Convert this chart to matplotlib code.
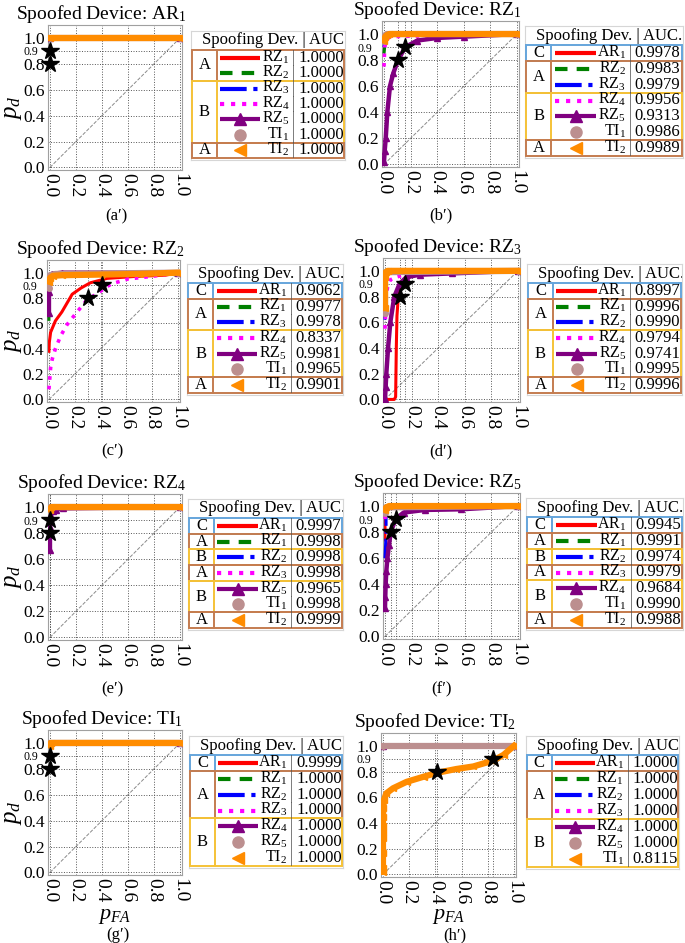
import matplotlib
matplotlib.use('Agg')
import matplotlib.pyplot as plt
from matplotlib.patches import Rectangle

plt.rcParams['font.family'] = ['Liberation Serif', 'DejaVu Serif']
plt.rcParams['mathtext.fontset'] = 'custom'
plt.rcParams['mathtext.rm'] = 'Liberation Serif'
plt.rcParams['mathtext.it'] = 'Liberation Serif:italic'
plt.rcParams['mathtext.bf'] = 'Liberation Serif:bold'

# ---------------- data ----------------
spoofed = ['AR_1', 'RZ_1', 'RZ_2', 'RZ_3', 'RZ_4', 'RZ_5', 'TI_1', 'TI_2']
panel_tags = ["(a′)", "(b′)", "(c′)", "(d′)", "(e′)", "(f′)", "(g′)", "(h′)"]
star_pd = [0.8, 0.9]

# (a') spoofed AR1
dev_a = ['RZ_1', 'RZ_2', 'RZ_3', 'RZ_4', 'RZ_5', 'TI_1', 'TI_2']
auc_a = ['1.0000', '1.0000', '1.0000', '1.0000', '1.0000', '1.0000', '1.0000']
grp_a = [('A', 0, 2), ('B', 2, 6), ('A', 6, 7)]
star_a = [0.0, 0.0]
curves_a = [([0, 1], [1, 1]), ([0, 1], [1, 1]), ([0, 1], [1, 1]), ([0, 1], [1, 1]),
            ([0, 1], [1, 1]), ([0, 1], [1, 1]), ([0, 1], [1, 1])]

# (b') spoofed RZ1
dev_b = ['AR_1', 'RZ_2', 'RZ_3', 'RZ_4', 'RZ_5', 'TI_1', 'TI_2']
auc_b = ['0.9978', '0.9983', '0.9979', '0.9956', '0.9313', '0.9986', '0.9989']
grp_b = [('C', 0, 1), ('A', 1, 3), ('B', 3, 6), ('A', 6, 7)]
star_b = [0.106, 0.16]
curves_b = [
    ([0, 0.01, 0.03, 1], [0.93, 0.97, 0.99, 1]),
    ([0, 0.01, 0.03, 1], [0.85, 0.95, 0.99, 1]),
    ([0, 0.01, 0.03, 1], [0.90, 0.96, 0.99, 1]),
    ([0, 0.005, 0.02, 0.05, 1], [0.75, 0.90, 0.96, 0.98, 1]),
    ([0, 0.005, 0.013, 0.025, 0.045, 0.07, 0.106, 0.16, 0.25, 0.4, 0.6, 1],
     [0.02, 0.10, 0.20, 0.40, 0.60, 0.70, 0.80, 0.90, 0.95, 0.97, 0.98, 1]),
    ([0, 0.01, 0.02, 1], [0.95, 0.99, 1, 1]),
    ([0, 0.01, 0.02, 0.04, 1], [0.95, 0.98, 0.99, 1, 1]),
]

# (c') spoofed RZ2
dev_c = ['AR_1', 'RZ_1', 'RZ_3', 'RZ_4', 'RZ_5', 'TI_1', 'TI_2']
auc_c = ['0.9062', '0.9977', '0.9978', '0.8337', '0.9981', '0.9965', '0.9901']
grp_c = [('C', 0, 1), ('A', 1, 3), ('B', 3, 6), ('A', 6, 7)]
star_c = [0.30, 0.41]
curves_c = [
    ([0, 0.003, 0.013, 0.05, 0.1, 0.18, 0.25, 0.32, 0.45, 0.66, 0.9, 1],
     [0.38, 0.45, 0.53, 0.62, 0.69, 0.83, 0.88, 0.92, 0.955, 0.97, 0.98, 1]),
    ([0, 0, 0.01, 0.03, 1], [0.62, 0.90, 0.97, 0.99, 1]),
    ([0, 0.01, 0.03, 1], [0.88, 0.97, 0.99, 1]),
    ([0, 0.013, 0.026, 0.05, 0.09, 0.14, 0.21, 0.29, 0.38, 0.48, 0.61, 0.79, 1],
     [0.08, 0.25, 0.32, 0.40, 0.50, 0.59, 0.68, 0.78, 0.84, 0.91, 0.95, 0.97, 1]),
    ([0, 0, 0.003, 0.02, 0.1, 1], [0.68, 0.85, 0.95, 0.99, 1, 1]),
    ([0, 0, 0.01, 0.05, 1], [0.88, 0.95, 0.98, 0.99, 1]),
    ([0, 0.01, 0.03, 0.1, 0.4, 0.7, 1], [0.93, 0.96, 0.975, 0.98, 0.985, 0.99, 1]),
]

# (d') spoofed RZ3
dev_d = ['AR_1', 'RZ_1', 'RZ_2', 'RZ_4', 'RZ_5', 'TI_1', 'TI_2']
auc_d = ['0.8997', '0.9996', '0.9990', '0.9794', '0.9741', '0.9995', '0.9996']
grp_d = [('C', 0, 1), ('A', 1, 3), ('B', 3, 6), ('A', 6, 7)]
star_d = [0.11, 0.15]
curves_d = [
    ([0, 0.07, 0.08, 0.085, 0.09, 0.1, 0.12, 0.15, 0.2, 0.3, 1],
     [0, 0, 0.02, 0.40, 0.65, 0.80, 0.87, 0.93, 0.96, 0.975, 1]),
    ([0, 0, 0.01, 1], [0.85, 0.95, 0.99, 1]),
    ([0, 0, 0.01, 0.03, 1], [0.62, 0.90, 0.97, 0.99, 1]),
    ([0, 0.01, 0.02, 0.04, 0.08, 0.15, 1], [0.55, 0.80, 0.88, 0.93, 0.95, 0.97, 1]),
    ([0, 0.005, 0.01, 0.023, 0.04, 0.07, 0.11, 0.16, 0.26, 0.5, 1],
     [0.0, 0.10, 0.20, 0.40, 0.60, 0.80, 0.90, 0.95, 0.97, 0.98, 1]),
    ([0, 0, 0.01, 1], [0.67, 0.95, 0.99, 1]),
    ([0, 0, 0.005, 0.02, 1], [0.71, 0.95, 0.99, 1, 1]),
]

# (e') spoofed RZ4
dev_e = ['AR_1', 'RZ_1', 'RZ_2', 'RZ_3', 'RZ_5', 'TI_1', 'TI_2']
auc_e = ['0.9997', '0.9998', '0.9998', '0.9998', '0.9965', '0.9998', '0.9999']
grp_e = [('C', 0, 1), ('A', 1, 2), ('B', 2, 3), ('A', 3, 4), ('B', 4, 6), ('A', 6, 7)]
star_e = [0.004, 0.004]
curves_e = [
    ([0, 0.005, 0.02, 1], [0.97, 0.99, 1, 1]),
    ([0, 0.005, 1], [0.98, 1, 1]),
    ([0, 0.005, 1], [0.98, 1, 1]),
    ([0, 0.005, 1], [0.98, 1, 1]),
    ([0, 0, 0.005, 0.02, 0.05, 0.1, 1], [0.67, 0.85, 0.93, 0.97, 0.98, 0.99, 1]),
    ([0, 0.005, 1], [0.98, 1, 1]),
    ([0, 0.01, 1], [0.98, 1, 1]),
]

# (f') spoofed RZ5
dev_f = ['AR_1', 'RZ_1', 'RZ_2', 'RZ_3', 'RZ_4', 'TI_1', 'TI_2']
auc_f = ['0.9945', '0.9991', '0.9974', '0.9979', '0.9684', '0.9990', '0.9988']
grp_f = [('C', 0, 1), ('A', 1, 2), ('B', 2, 3), ('A', 3, 4), ('B', 4, 6), ('A', 6, 7)]
star_f = [0.043, 0.08]
curves_f = [
    ([0, 0, 0.01, 0.03, 1], [0.74, 0.90, 0.97, 0.99, 1]),
    ([0, 0.01, 1], [0.93, 0.99, 1]),
    ([0, 0.008, 0.008, 0.02, 0.05, 1], [0.60, 0.78, 0.93, 0.97, 0.99, 1]),
    ([0, 0.005, 0.02, 1], [0.90, 0.97, 0.99, 1]),
    ([0, 0.002, 0.005, 0.01, 0.018, 0.03, 0.043, 0.08, 0.14, 0.3, 0.57, 1],
     [0.22, 0.30, 0.40, 0.50, 0.60, 0.70, 0.80, 0.90, 0.95, 0.97, 0.975, 1]),
    ([0, 0.01, 1], [0.95, 0.99, 1]),
    ([0, 0.01, 0.03, 1], [0.97, 0.99, 1, 1]),
]

# (g') spoofed TI1
dev_g = ['AR_1', 'RZ_1', 'RZ_2', 'RZ_3', 'RZ_4', 'RZ_5', 'TI_2']
auc_g = ['0.9999', '1.0000', '1.0000', '1.0000', '1.0000', '1.0000', '1.0000']
grp_g = [('C', 0, 1), ('A', 1, 4), ('B', 4, 7)]
star_g = [0.0, 0.0]
curves_g = [
    ([0, 0.005, 1], [0.97, 1, 1]),
    ([0, 1], [1, 1]), ([0, 1], [1, 1]), ([0, 1], [1, 1]),
    ([0, 1], [1, 1]), ([0, 1], [1, 1]),
    ([0, 0.005, 1], [0.98, 1, 1]),
]

# (h') spoofed TI2
dev_h = ['AR_1', 'RZ_1', 'RZ_2', 'RZ_3', 'RZ_4', 'RZ_5', 'TI_1']
auc_h = ['1.0000', '1.0000', '1.0000', '1.0000', '1.0000', '1.0000', '0.8115']
grp_h = [('C', 0, 1), ('A', 1, 4), ('B', 4, 7)]
star_h = [0.41, 0.84]
curves_h = [
    ([0, 0.003, 1], [0.98, 1, 1]),
    ([0, 1], [1, 1]), ([0, 1], [1, 1]), ([0, 1], [1, 1]), ([0, 1], [1, 1]),
    ([0, 1], [1, 1]),
    ([0, 0, 0, 0, 0, 0, 0, 0.003, 0.008, 0.025, 0.077, 0.18, 0.31, 0.41, 0.56, 0.69, 0.84, 0.92, 1],
     [0.02, 0.05, 0.17, 0.28, 0.33, 0.38, 0.45, 0.52, 0.58, 0.63, 0.67, 0.72, 0.76, 0.79, 0.82, 0.84, 0.885, 0.93, 1]),
]

xticks = [0.0, 0.2, 0.4, 0.6, 0.8, 1.0]
yticks = [0.0, 0.2, 0.4, 0.6, 0.8, 1.0]

panels = [
    (dev_a, auc_a, grp_a, star_a, curves_a),
    (dev_b, auc_b, grp_b, star_b, curves_b),
    (dev_c, auc_c, grp_c, star_c, curves_c),
    (dev_d, auc_d, grp_d, star_d, curves_d),
    (dev_e, auc_e, grp_e, star_e, curves_e),
    (dev_f, auc_f, grp_f, star_f, curves_f),
    (dev_g, auc_g, grp_g, star_g, curves_g),
    (dev_h, auc_h, grp_h, star_h, curves_h),
]

# ---------------- layout / style ----------------
W, H = 685, 943
fig = plt.figure(figsize=(W / 100, H / 100), dpi=100)

AX_PX = [(48, 25, 182, 170), (382, 21, 519, 167),
         (47, 260, 180, 402), (383, 258, 520, 402),
         (48, 494, 182, 640), (383, 493, 520, 639),
         (48, 730, 182, 875), (381, 733, 516, 877)]
LEG_PX = [(191, 50, 345, 158), (525, 45, 683, 156),
          (187, 283, 343, 393), (527, 283, 682, 393),
          (188, 518, 343, 628), (526, 517, 683, 628),
          (189, 755, 343, 866), (526, 755, 679, 867)]
TAG_PX = [(116, 216), (441, 215), (112, 451), (441, 451),
          (112, 689), (441, 689), (118, 935), (455, 935)]
TITLE_PAD = [3, 1, 3, 3, 3, 3, 3, 3]

MAIN_STYLES = [
    dict(color='red', ls='-', lw=2.2),
    dict(color='green', ls=(0, (4, 2)), lw=2.2),
    dict(color='blue', ls='-.', lw=2.2),
    dict(color='magenta', ls=':', lw=2.6),
    dict(color='purple', ls='-', lw=3.2, marker='^', ms=4),
    dict(color='rosybrown', ls='-', lw=4.5, marker='o', ms=4),
    dict(color='darkorange', ls='-', lw=4.5, marker='<', ms=5),
]
GROUP_COLORS = {'A': '#c47c50', 'B': '#f5c237', 'C': '#65a5dc'}


def px_axes(l, t, r, b):
    return fig.add_axes([l / W, 1 - b / H, (r - l) / W, (b - t) / H])


def dev_label(d):
    base, sub = d.split('_')
    return r'$\mathrm{%s}_{%s}$' % (base, sub)


def draw_legend(rect, devices, aucs, groups):
    l, bt, r, bb = rect
    rh = (bb - bt) / 7.0
    hdr = 19
    ax = px_axes(l, bt - hdr, r, bb + 2)
    ax.set_xlim(0, 1)
    ax.set_ylim(7 + 2 / rh, -hdr / rh)
    ax.set_xticks([])
    ax.set_yticks([])
    for s in ax.spines.values():
        s.set_color('#d6d6d6')
        s.set_linewidth(0.8)
    ax.text(0.07, -hdr / rh / 2, 'Spoofing Dev. | AUC.', ha='left', va='center',
            fontsize=12, clip_on=True)
    for g, s, e in groups:
        c = GROUP_COLORS[g]
        ax.add_patch(Rectangle((0.008, s), 0.985, e - s, fill=False, ec=c, lw=1.4, zorder=3))
        ax.plot([0.167, 0.167], [s, e], color=c, lw=1.4, zorder=3)
        ax.text(0.087, (s + e) / 2, g, ha='center', va='center', fontsize=12)
    for i, (d, a) in enumerate(zip(devices, aucs)):
        y = i + 0.5
        xs = [0.19, 0.45]
        if i == 0:
            ax.plot(xs, [y, y], color='red', lw=3, solid_capstyle='butt')
        elif i == 1:
            ax.plot(xs, [y, y], color='green', lw=3, ls=(0, (3, 2.2)), dash_capstyle='butt')
        elif i == 2:
            ax.plot(xs, [y, y], color='blue', lw=3, ls='-.', dash_capstyle='butt')
        elif i == 3:
            ax.plot(xs, [y, y], color='magenta', lw=3, ls=':', dash_capstyle='butt')
        elif i == 4:
            ax.plot(xs, [y, y], color='purple', lw=3, solid_capstyle='butt')
            ax.plot([0.32], [y], color='purple', marker='^', ms=9, ls='none')
        elif i == 5:
            ax.plot([0.32], [y], color='rosybrown', marker='o', ms=8, ls='none')
        else:
            ax.plot([0.32], [y], color='darkorange', marker='<', ms=8, ls='none')
        ax.text(0.64, y - 0.05, dev_label(d), ha='right', va='center', fontsize=11.5)
        ax.text(0.668, y, '|', ha='center', va='center', fontsize=11.5, color='#555555')
        ax.text(0.695, y, a, ha='left', va='center', fontsize=12, clip_on=True)


for k, (devices, aucs, groups, stars, curves) in enumerate(panels):
    ax = px_axes(*AX_PX[k])
    ax.set_xlim(-0.015, 1.015)
    ax.set_ylim(-0.02, 1.1)
    ax.plot([0, 1], [0, 1], color='#8a8a8a', ls='--', lw=0.7, zorder=1)
    for i, (x, y) in enumerate(curves):
        ax.plot(x, y, zorder=2 + i, **MAIN_STYLES[i])
    ax.plot(stars, star_pd, ls='none', marker='*', ms=13, color='black',
            mec='black', zorder=20, clip_on=False)
    ax.set_xticks(xticks)
    ax.set_xticklabels(['%.1f' % v for v in xticks], rotation=-90, fontsize=14)
    ax.set_xticks(stars, minor=True)
    ax.set_yticks(yticks)
    ax.set_yticklabels(['%.1f' % v for v in yticks], fontsize=12.5)
    ax.set_yticks(star_pd, minor=True)
    ax.set_yticklabels(['%.1f' % v for v in star_pd], minor=True, fontsize=8.5)
    ax.grid(which='both', ls=':', color='#555555', lw=0.7)
    ax.tick_params(which='both', length=0, pad=2)
    ax.tick_params(axis='y', which='minor', pad=7)
    for s in ax.spines.values():
        s.set_color('#a0a0a0')
        s.set_linewidth(0.8)
    ax.set_title('Spoofed Device: ' + dev_label(spoofed[k]), fontsize=14, x=0.40,
                 pad=TITLE_PAD[k])
    if k % 2 == 0:
        l, t, r, b = AX_PX[k]
        fig.text(13 / W, 1 - ((t + b) / 2 + 10) / H, r'$p_d$', rotation=90,
                 ha='center', va='center', fontsize=18)
    if k >= 6:
        l, t, r, b = AX_PX[k]
        fig.text(((l + r) / 2) / W, 1 - 916 / H, r'$p_{FA}$', ha='center', va='center',
                 fontsize=16)
    draw_legend(LEG_PX[k], devices, aucs, groups)
    tx, ty = TAG_PX[k]
    fig.text(tx / W, 1 - ty / H, panel_tags[k], ha='center', va='center', fontsize=12)

fig.savefig('out.png', dpi=100)
